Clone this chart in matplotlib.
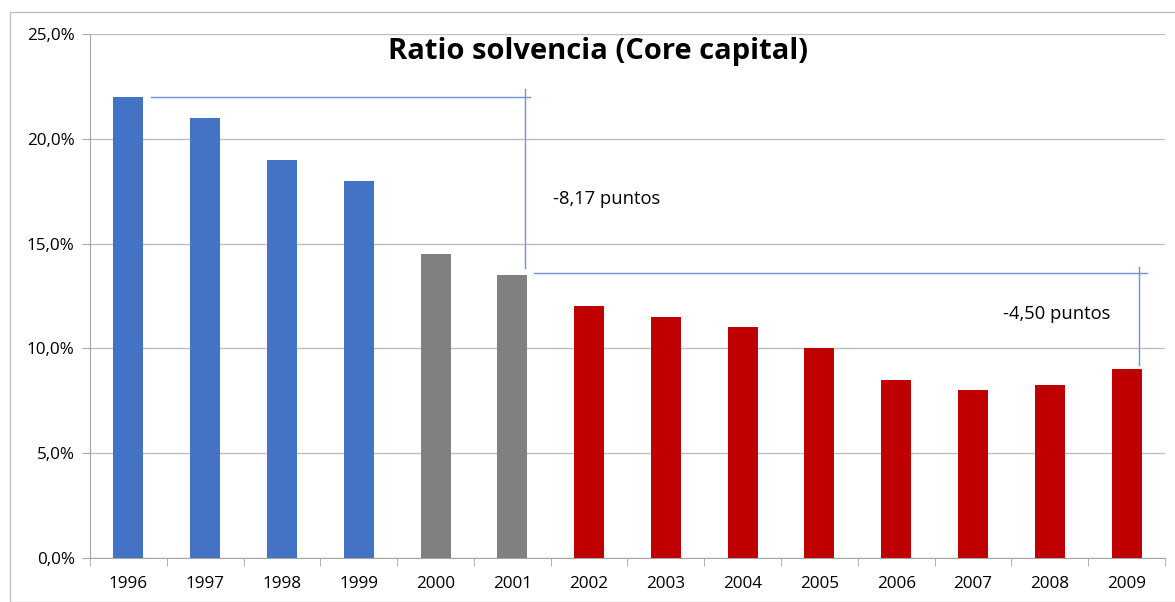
import numpy as np
import matplotlib.pyplot as plt
from matplotlib.patches import Rectangle

years = ["1996", "1997", "1998", "1999", "2000", "2001", "2002",
         "2003", "2004", "2005", "2006", "2007", "2008", "2009"]
ratio = [22.0, 21.0, 19.0, 18.0, 14.5, 13.5, 12.0,
         11.5, 11.0, 10.0, 8.5, 8.0, 8.25, 9.0]
colors = ["#4472C4"] * 4 + ["#808080"] * 2 + ["#C00000"] * 8

plt.rcParams['font.family'] = ['Open Sans', 'DejaVu Sans']

fig = plt.figure(figsize=(11.75, 6.02), dpi=100)
ax = fig.add_axes([90 / 1175, 1 - 558 / 602, 1075 / 1175, 524 / 602])

# outer chart border
fig.patches.append(Rectangle((10 / 1175, 0), 1.2, 1 - 12 / 602, transform=fig.transFigure,
                             fill=False, edgecolor="#BFBFBF", linewidth=1))

x = np.arange(len(years))
ax.bar(x, ratio, width=0.39, color=colors, zorder=3)

ax.set_xlim(-0.5, len(years) - 0.5)
ax.set_ylim(0, 25)
ax.set_yticks(np.arange(0, 26, 5))
ax.set_yticklabels([f"{v:.1f}%".replace(".", ",") for v in np.arange(0, 26, 5)], fontsize=12.3)
ax.set_xticks(x)
ax.set_xticklabels(years, fontsize=12.3)
ax.set_xticks(np.arange(-0.5, len(years)), minor=True)
ax.tick_params(axis="x", which="major", length=0, pad=13)
ax.tick_params(axis="x", which="minor", length=6, color="#A6A6A6")
ax.tick_params(axis="y", length=6, color="#A6A6A6", pad=5)
ax.grid(axis="y", color="#BFBFBF", linewidth=1, zorder=0)

for side in ["top", "right"]:
    ax.spines[side].set_visible(False)
ax.spines["left"].set_color("#A6A6A6")
ax.spines["bottom"].set_color("#A6A6A6")

fig.text(598 / 1175, 1 - 52 / 602, "Ratio solvencia (Core capital)", fontsize=21,
         fontweight="bold", ha="center", va="center")

# annotation lines
line_c = "#6F93D3"
ax.plot([0.29, 5.23], [22.0, 22.0], color=line_c, lw=1, zorder=4)
ax.plot([5.16, 5.16], [22.38, 13.84], color=line_c, lw=1, zorder=4)
ax.plot([5.28, 13.26], [13.6, 13.6], color=line_c, lw=1, zorder=4)
ax.plot([13.16, 13.16], [13.88, 9.2], color=line_c, lw=1, zorder=4)
ax.text(5.53, 17.15, "-8,17 puntos", fontsize=13.2, va="center", ha="left")
ax.text(11.39, 11.65, "-4,50 puntos", fontsize=13.2, va="center", ha="left")

fig.savefig("out.png", dpi=100)
